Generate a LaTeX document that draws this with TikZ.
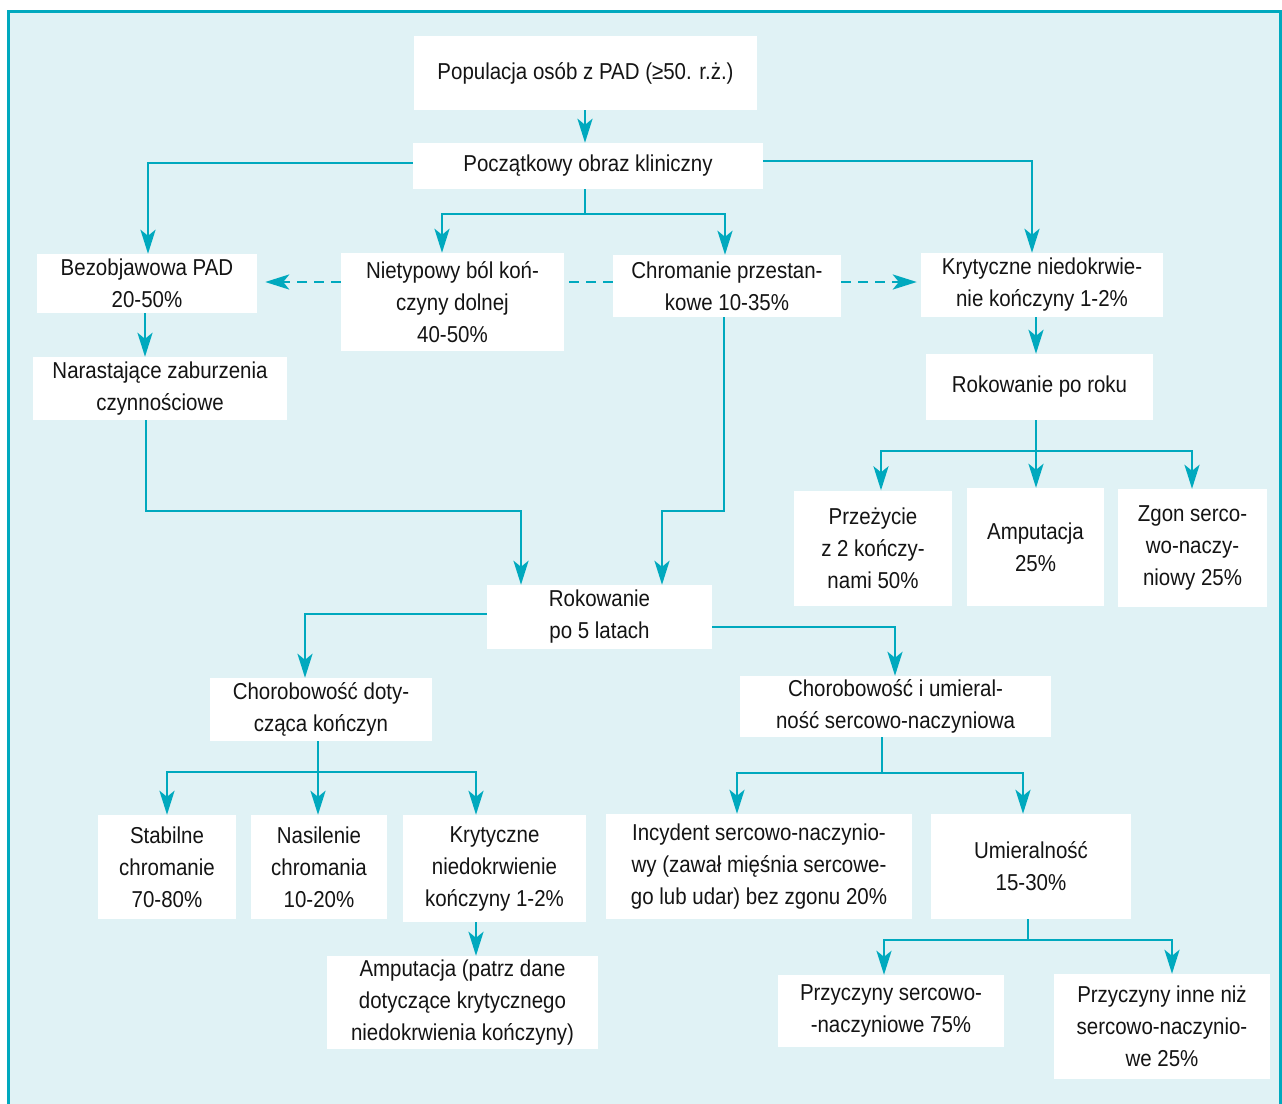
\documentclass[tikz,border=0pt]{standalone}
\usepackage{fontspec}
\setmainfont[FakeStretch=0.89]{Liberation Sans}
\usetikzlibrary{arrows.meta}
\definecolor{bgc}{HTML}{E0F2F5}
\definecolor{tealc}{HTML}{00A9BE}
\definecolor{txtc}{HTML}{141414}
\begin{document}
\begin{tikzpicture}[x=1pt,y=-1pt,
 bx/.style={fill=white, inner sep=0pt, align=center, font=\fontsize{23}{32}\selectfont, text=txtc},
 lin/.style={draw=tealc, line width=2.8pt},
 con/.style={lin, -{Stealth[length=24pt,width=15pt,inset=6pt]}},
 dshl/.style={lin, dash pattern=on 10pt off 7pt},
 dsh/.style={con, dash pattern=on 10pt off 7pt}]
\useasboundingbox (0,0) rectangle (1282,1103);
\fill[white] (0,0) rectangle (1282,1103);
\fill[bgc] (8,11) rectangle (1280,1120);
\draw[tealc, line width=3pt] (8,1120) -- (8,11) -- (1280,11) -- (1280,1120);

% nodes
\node[bx, minimum width=343, minimum height=74] (pop) at (585.5,73) {Populacja osób z PAD (≥50. r.ż.)};
\node[bx, minimum width=350, minimum height=46] (poc) at (588,166) {Początkowy obraz kliniczny};
\node[bx, minimum width=220, minimum height=59] (bez) at (147,283.5) {Bezobjawowa PAD\\20-50\%};
\node[bx, minimum width=223, minimum height=98] (nie) at (452.5,302) {Nietypowy ból koń-\\czyny dolnej\\40-50\%};
\node[bx, minimum width=228, minimum height=62] (chr) at (727,286) {Chromanie przestan-\\kowe 10-35\%};
\node[bx, minimum width=242, minimum height=64] (kry) at (1042,285) {Krytyczne niedokrwie-\\nie kończyny 1-2\%};
\node[bx, minimum width=254, minimum height=63] (nar) at (160,388.5) {Narastające zaburzenia\\czynnościowe};
\node[bx, minimum width=227, minimum height=66] (rok1) at (1039.5,387) {Rokowanie po roku};
\node[bx, minimum width=158, minimum height=115] (prz) at (873,548) {Przeżycie\\z 2 kończy-\\nami 50\%};
\node[bx, minimum width=137, minimum height=118] (amp) at (1035.5,547) {Amputacja\\25\%};
\node[bx, minimum width=149, minimum height=118] (zgon) at (1192.5,548) {Zgon serco-\\wo-naczy-\\niowy 25\%};
\node[bx, minimum width=225, minimum height=64] (rok5) at (599.5,617) {Rokowanie\\po 5 latach};
\node[bx, minimum width=222, minimum height=63] (chd) at (321,709.5) {Chorobowość doty-\\cząca kończyn};
\node[bx, minimum width=311, minimum height=61] (chu) at (895.5,706.5) {Chorobowość i umieral-\\ność sercowo-naczyniowa};
\node[bx, minimum width=138, minimum height=104] (sta) at (167,867) {Stabilne\\chromanie\\70-80\%};
\node[bx, minimum width=136, minimum height=104] (nas) at (319,867) {Nasilenie\\chromania\\10-20\%};
\node[bx, minimum width=183, minimum height=107] (kr2) at (494.5,868.5) {Krytyczne\\niedokrwienie\\kończyny 1-2\%};
\node[bx, minimum width=271, minimum height=93] (amp2) at (462.5,1002.5) {Amputacja (patrz dane\\dotyczące krytycznego\\niedokrwienia kończyny)};
\node[bx, minimum width=306, minimum height=105] (inc) at (759,866.5) {Incydent sercowo-naczynio-\\wy (zawał mięśnia sercowe-\\go lub udar) bez zgonu 20\%};
\node[bx, minimum width=200, minimum height=105] (umi) at (1031,866.5) {Umieralność\\15-30\%};
\node[bx, minimum width=226, minimum height=72] (pse) at (891,1011) {Przyczyny sercowo-\\-naczyniowe 75\%};
\node[bx, minimum width=216, minimum height=105] (pin) at (1162,1026.5) {Przyczyny inne niż\\sercowo-naczynio-\\we 25\%};

% coordinates
\coordinate (dy) at (0,282);
\coordinate (j1) at (585,214);
\coordinate (a1) at (442,214);
\coordinate (a2) at (725,214);
\coordinate (b1) at (148,163);
\coordinate (b2) at (1032,161);
\coordinate (c1) at (145,0);
\coordinate (c2) at (146,511);
\coordinate (c3) at (521,511);
\coordinate (c4) at (724,511);
\coordinate (c5) at (662,511);
\coordinate (c6) at (1036,0);
\coordinate (j2) at (1036,451);
\coordinate (c7) at (881,451);
\coordinate (c8) at (1192,451);
\coordinate (c9) at (305,614);
\coordinate (c10) at (895,627);
\coordinate (j3) at (318,772);
\coordinate (c11) at (167,772);
\coordinate (c12) at (476,772);
\coordinate (j4) at (882,773);
\coordinate (c13) at (737,773);
\coordinate (c14) at (1023,773);
\coordinate (j5) at (1028,940);
\coordinate (c15) at (884,940);
\coordinate (c16) at (1172,940);

% connectors
\draw[con] (j1 |- pop.south) -- (j1 |- poc.north);
\draw[con] (poc.west |- b1) -- (b1) -- (b1 |- bez.north);
\draw[con] (poc.east |- b2) -- (b2) -- (b2 |- kry.north);
\draw[lin] (j1 |- poc.south) -- (j1);
\draw[con] (j1) -- (a1) -- (a1 |- nie.north);
\draw[con] (j1) -- (a2) -- (a2 |- chr.north);
\draw[dshl] (chr.west |- dy) -- (nie.east |- dy);
\draw[dsh, shorten >=8pt] (nie.west |- dy) -- (bez.east |- dy);
\draw[dsh, shorten >=4pt] (chr.east |- dy) -- (kry.west |- dy);
\draw[con] (c1 |- bez.south) -- (c1 |- nar.north);
\draw[con] (c2 |- nar.south) -- (c2) -- (c3) -- (c3 |- rok5.north);
\draw[con] (c4 |- chr.south) -- (c4) -- (c5) -- (c5 |- rok5.north);
\draw[con] (c6 |- kry.south) -- (c6 |- rok1.north);
\draw[lin] (c6 |- rok1.south) -- (j2);
\draw[con] (j2) -- (c7) -- (c7 |- prz.north);
\draw[con] (j2) -- (c8) -- (c8 |- zgon.north);
\draw[con] (j2) -- (j2 |- amp.north);
\draw[con] (rok5.west |- c9) -- (c9) -- (c9 |- chd.north);
\draw[con] (rok5.east |- c10) -- (c10) -- (c10 |- chu.north);
\draw[lin] (j3 |- chd.south) -- (j3);
\draw[con] (j3) -- (c11) -- (c11 |- sta.north);
\draw[con] (j3) -- (j3 |- nas.north);
\draw[con] (j3) -- (c12) -- (c12 |- kr2.north);
\draw[con] (c12 |- kr2.south) -- (c12 |- amp2.north);
\draw[lin] (j4 |- chu.south) -- (j4);
\draw[con] (j4) -- (c13) -- (c13 |- inc.north);
\draw[con] (j4) -- (c14) -- (c14 |- umi.north);
\draw[lin] (j5 |- umi.south) -- (j5);
\draw[con] (j5) -- (c15) -- (c15 |- pse.north);
\draw[con] (j5) -- (c16) -- (c16 |- pin.north);
\end{tikzpicture}
\end{document}
